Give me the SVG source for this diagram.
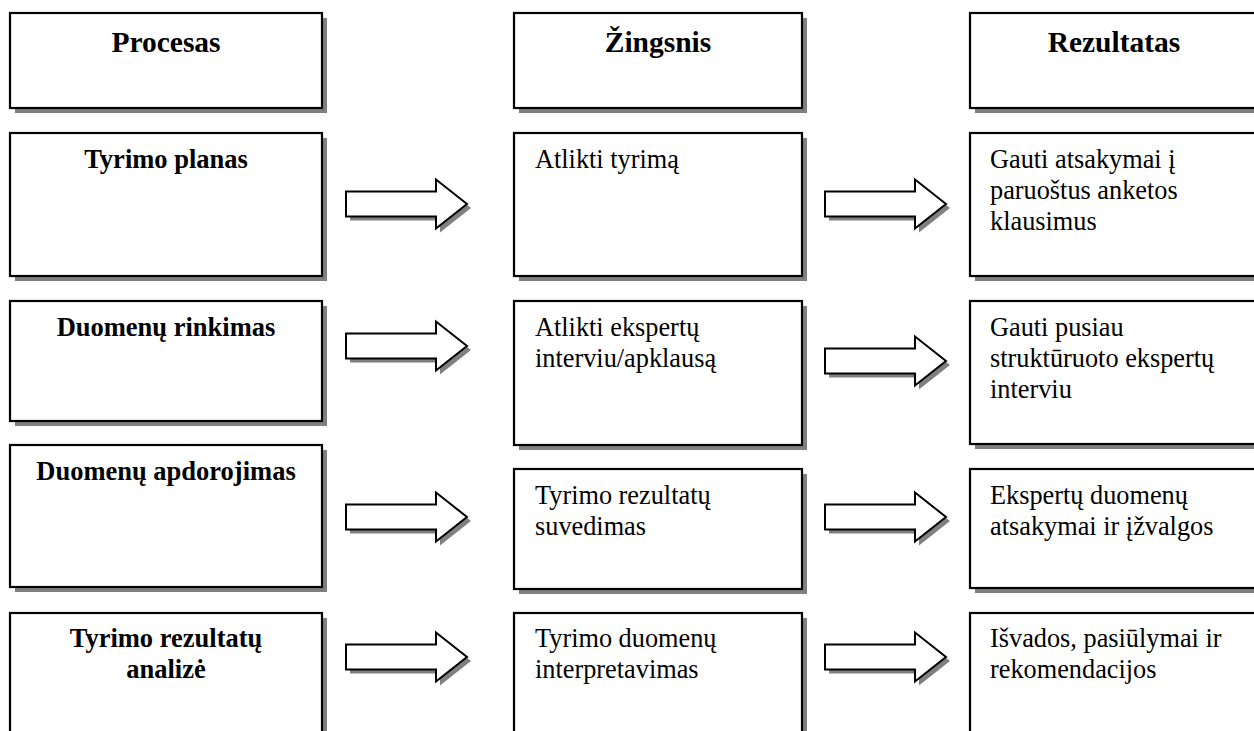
<svg xmlns="http://www.w3.org/2000/svg" xmlns:xlink="http://www.w3.org/1999/xlink" width="1254" height="731" viewBox="0 0 1254 731">
<style>
.box{fill:#fff;stroke:#000;stroke-width:2.2}
.sh{fill:#808080}
.arr{fill:#fff;stroke:#000;stroke-width:2;stroke-linejoin:miter}
.hd{font-family:"Liberation Serif",serif;font-weight:bold;font-size:26.5px;text-anchor:middle;fill:#000}
.big{font-size:29.5px}
.tx{font-family:"Liberation Serif",serif;font-size:26.3px;fill:#000}
</style>
<defs>
<path id="arrow" d="M0,-12.5 H90 V-24.5 L121,0 L90,24.5 V12.5 H0 Z"/>
</defs>
<rect width="1254" height="731" fill="#fff"/>

<g id="h1"><rect class="sh" x="15" y="18" width="312" height="95"/><rect class="box" x="10" y="13" width="312" height="95"/><text class="hd big" x="166" y="52">Procesas</text></g>
<g id="h2"><rect class="sh" x="519" y="18" width="288" height="95"/><rect class="box" x="514" y="13" width="288" height="95"/><text class="hd big" x="658" y="52">Žingsnis</text></g>
<g id="h3"><rect class="sh" x="975" y="18" width="288" height="95"/><rect class="box" x="970" y="13" width="288" height="95"/><text class="hd big" x="1114" y="52">Rezultatas</text></g>

<g id="p1"><rect class="sh" x="15" y="138" width="312" height="143"/><rect class="box" x="10" y="133" width="312" height="143"/><text class="hd" x="166" y="168">Tyrimo planas</text></g>
<g id="s1"><rect class="sh" x="519" y="138" width="288" height="143"/><rect class="box" x="514" y="133" width="288" height="143"/><text class="tx" x="535" y="168">Atlikti tyrimą</text></g>
<g id="r1"><rect class="sh" x="975" y="138" width="288" height="143"/><rect class="box" x="970" y="133" width="288" height="143"/><text class="tx" x="990" y="168"><tspan x="990">Gauti atsakymai į</tspan><tspan x="990" dy="31">paruoštus anketos</tspan><tspan x="990" dy="31">klausimus</tspan></text></g>

<g id="p2"><rect class="sh" x="15" y="306" width="312" height="120"/><rect class="box" x="10" y="301" width="312" height="120"/><text class="hd" x="166" y="336">Duomenų rinkimas</text></g>
<g id="s2"><rect class="sh" x="519" y="306" width="288" height="144"/><rect class="box" x="514" y="301" width="288" height="144"/><text class="tx" x="535" y="336"><tspan x="535">Atlikti ekspertų</tspan><tspan x="535" dy="31">interviu/apklausą</tspan></text></g>
<g id="r2"><rect class="sh" x="975" y="306" width="288" height="143"/><rect class="box" x="970" y="301" width="288" height="143"/><text class="tx" x="990" y="336"><tspan x="990">Gauti pusiau</tspan><tspan x="990" dy="31">struktūruoto ekspertų</tspan><tspan x="990" dy="31">interviu</tspan></text></g>

<g id="p3"><rect class="sh" x="15" y="450" width="312" height="142"/><rect class="box" x="10" y="445" width="312" height="142"/><text class="hd" x="166" y="480">Duomenų apdorojimas</text></g>
<g id="s3"><rect class="sh" x="519" y="474" width="288" height="120"/><rect class="box" x="514" y="469" width="288" height="120"/><text class="tx" x="535" y="504"><tspan x="535">Tyrimo rezultatų</tspan><tspan x="535" dy="31">suvedimas</tspan></text></g>
<g id="r3"><rect class="sh" x="975" y="474" width="288" height="119"/><rect class="box" x="970" y="469" width="288" height="119"/><text class="tx" x="990" y="504"><tspan x="990">Ekspertų duomenų</tspan><tspan x="990" dy="31">atsakymai ir įžvalgos</tspan></text></g>

<g id="p4"><rect class="sh" x="15" y="618" width="312" height="140"/><rect class="box" x="10" y="613" width="312" height="140"/><text class="hd" x="166" y="647"><tspan x="166">Tyrimo rezultatų</tspan><tspan x="166" dy="31">analizė</tspan></text></g>
<g id="s4"><rect class="sh" x="519" y="618" width="288" height="140"/><rect class="box" x="514" y="613" width="288" height="140"/><text class="tx" x="535" y="647"><tspan x="535">Tyrimo duomenų</tspan><tspan x="535" dy="31">interpretavimas</tspan></text></g>
<g id="r4"><rect class="sh" x="975" y="618" width="288" height="140"/><rect class="box" x="970" y="613" width="288" height="140"/><text class="tx" x="990" y="647"><tspan x="990">Išvados, pasiūlymai ir</tspan><tspan x="990" dy="31">rekomendacijos</tspan></text></g>

<g id="connectors">
<use href="#arrow" class="sh" x="350" y="208"/><use href="#arrow" class="arr" x="346" y="204"/>
<use href="#arrow" class="sh" x="829" y="208"/><use href="#arrow" class="arr" x="825" y="204"/>
<use href="#arrow" class="sh" x="350" y="350"/><use href="#arrow" class="arr" x="346" y="346"/>
<use href="#arrow" class="sh" x="829" y="365"/><use href="#arrow" class="arr" x="825" y="361"/>
<use href="#arrow" class="sh" x="350" y="521"/><use href="#arrow" class="arr" x="346" y="517"/>
<use href="#arrow" class="sh" x="829" y="521"/><use href="#arrow" class="arr" x="825" y="517"/>
<use href="#arrow" class="sh" x="350" y="661"/><use href="#arrow" class="arr" x="346" y="657"/>
<use href="#arrow" class="sh" x="829" y="661"/><use href="#arrow" class="arr" x="825" y="657"/>
</g>
</svg>
